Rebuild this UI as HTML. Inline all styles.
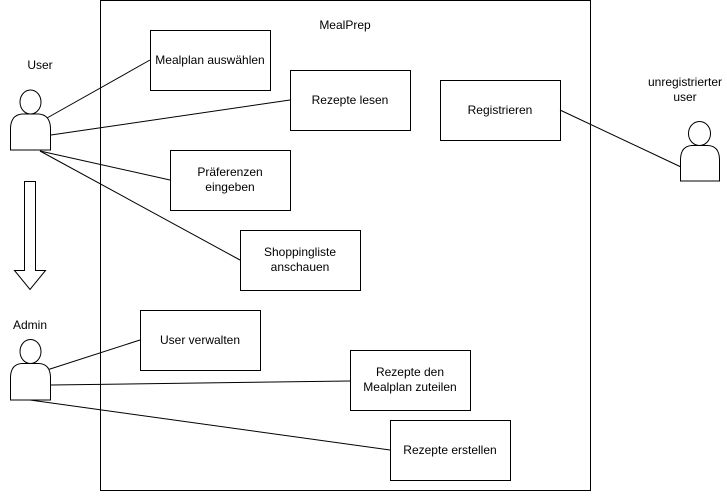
<!DOCTYPE html>
<html><head><meta charset="utf-8"><style>
body{margin:0;background:#fff;width:727px;height:491px;overflow:hidden}
svg text{font-family:"Liberation Sans",sans-serif;font-size:12px;fill:#000}
</style></head><body>
<svg width="727" height="491" xmlns="http://www.w3.org/2000/svg">
<g fill="#fff" stroke="#000" stroke-width="1">
<rect x="100.5" y="0.5" width="490" height="490"/>
<rect x="150.5" y="30.5" width="120" height="60"/>
<rect x="290.5" y="70.5" width="120" height="60"/>
<rect x="440.5" y="80.5" width="120" height="60"/>
<rect x="170.5" y="150.5" width="120" height="60"/>
<rect x="240.5" y="230.5" width="120" height="60"/>
<rect x="140.5" y="310.5" width="120" height="60"/>
<rect x="350.5" y="350.5" width="120" height="60"/>
<rect x="390.5" y="420.5" width="120" height="60"/>
</g>
<g stroke="#000" stroke-width="1" fill="none">
<line x1="47" y1="118" x2="150" y2="60"/>
<line x1="51" y1="135" x2="290" y2="100"/>
<line x1="40" y1="151" x2="170" y2="180"/>
<line x1="40" y1="151" x2="240" y2="260"/>
<line x1="560" y1="110" x2="681" y2="167"/>
<line x1="47" y1="370" x2="140" y2="340"/>
<line x1="51" y1="385" x2="350" y2="381"/>
<line x1="30" y1="400" x2="390" y2="450"/>
</g>
<g fill="#fff" stroke="#000" stroke-width="1">
<ellipse cx="30.5" cy="102" rx="10.5" ry="12"/>
<path d="M10.5 150 L10.5 128 Q11 115 22 114 L39 114 Q50 115 50.5 128 L50.5 150 Z"/>
<ellipse cx="30.5" cy="351.5" rx="10.5" ry="12"/>
<path d="M10.5 400 L10.5 377 Q11 364 22 363.5 L39 363.5 Q50 364 50.5 377 L50.5 400 Z"/>
<ellipse cx="699.5" cy="133.5" rx="11" ry="12"/>
<path d="M680.5 181 L680.5 159 Q681 146 692 145.5 L708 145.5 Q719 146 719.5 159 L719.5 181 Z"/>
<path d="M24.5 181.5 L35.5 181.5 L35.5 270.5 L45.5 270.5 L30 289.5 L14.5 270.5 L24.5 270.5 Z" stroke="#000"/>
</g>
<g text-anchor="middle">
<text x="345" y="29">MealPrep</text>
<text x="40" y="69">User</text>
<text x="30" y="329">Admin</text>
<text x="685" y="86">unregistrierter</text>
<text x="685" y="101">user</text>
<text x="210" y="64">Mealplan auswählen</text>
<text x="350" y="104">Rezepte lesen</text>
<text x="500" y="114">Registrieren</text>
<text x="230" y="176">Präferenzen</text>
<text x="230" y="191">eingeben</text>
<text x="300" y="256">Shoppingliste</text>
<text x="300" y="271">anschauen</text>
<text x="200" y="344">User verwalten</text>
<text x="410" y="376">Rezepte den</text>
<text x="410" y="391">Mealplan zuteilen</text>
<text x="450" y="454">Rezepte erstellen</text>
</g>
</svg>
</body></html>
